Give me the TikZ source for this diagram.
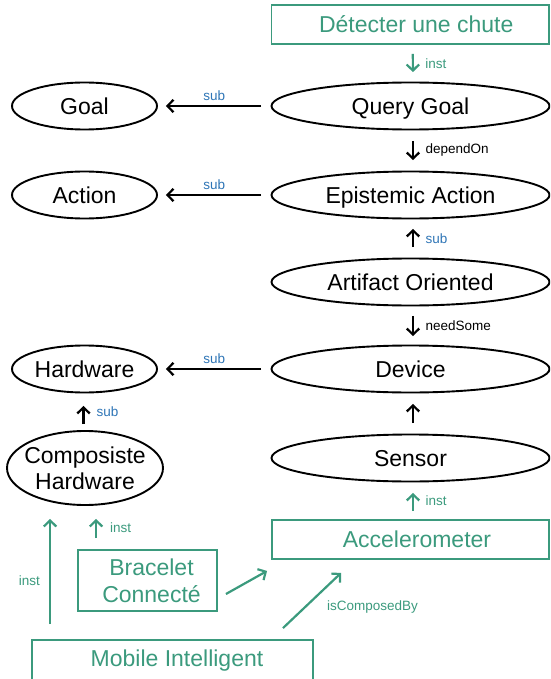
\documentclass[tikz,border=0pt]{standalone}
\usepackage{fontspec}
\setmainfont{Liberation Sans}
\usetikzlibrary{arrows.meta,shapes.geometric}
\definecolor{dgreen}{HTML}{3B9A7D}
\definecolor{dblue}{HTML}{2E75B6}
\begin{document}
\begin{tikzpicture}[x=1pt,y=-1pt,
  big/.style={font=\fontsize{23}{26}\selectfont},
  one/.style={text height=16.5pt, text depth=0pt},
  small/.style={font=\fontsize{13.5}{16}\selectfont, inner sep=0pt},
  ell/.style={draw, ellipse, line width=1.9pt, inner sep=0pt, big},
  rell/.style={ell, one, minimum width=278pt, minimum height=47pt},
  lell/.style={ell, one, minimum width=145pt, minimum height=47pt},
  gbox/.style={draw=dgreen, line width=1.9pt, text=dgreen, inner sep=0pt, big},
  barr/.style={line width=2.2pt, -{Straight Barb[length=6pt,width=12.5pt]}},
  garr/.style={barr, draw=dgreen},
  glab/.style={small, text=dgreen},
  blab/.style={small, text=dblue},
  klab/.style={small, text=black}
]
\useasboundingbox (0,0) rectangle (550,679);
\clip (0,0) rectangle (550,679);

% right column
\node[gbox, one, minimum width=277.5pt, minimum height=39pt] (det) at (410.25,24.5) {\hspace*{12pt}Détecter une chute};
\node[rell] (qg) at (410.5,106) {Query Goal};
\node[rell] (ea) at (410.5,195) {Epistemic Action};
\node[rell] (ao) at (410.5,282) {Artifact Oriented};
\node[rell] (dev) at (410.5,369) {Device};
\node[rell] (sen) at (410.5,458) {Sensor};
\node[gbox, one, minimum width=277pt, minimum height=39pt] (acc) at (410.5,539.5) {\hspace*{13pt}Accelerometer};

% left column
\node[lell] (goal) at (84.5,106) {Goal};
\node[lell] (act) at (84.5,195) {Action};
\node[lell] (hw) at (84.5,369) {Hardware};
\node[ell, inner xsep=-20pt, minimum width=156pt, minimum height=74pt, align=center] (chw) at (85,468) {Composiste\\Hardware};
\node[gbox, align=center, minimum width=139pt, minimum height=61pt, font=\fontsize{23}{27}\selectfont] (brac) at (147.5,580.5) {\hspace*{8pt}Bracelet\\\hspace*{8pt}Connecté};
\node[gbox, minimum width=281pt, minimum height=60pt, text height=10pt, text depth=18pt] (mob) at (172.5,670) {\hspace*{9pt}Mobile Intelligent};

% vertical arrows, right column
\draw[garr, shorten <=9pt, shorten >=9.5pt] ([xshift=2.5pt]det.south) -- ([xshift=2.5pt]qg.north)
  node[glab, midway, right, xshift=11.5pt] {inst};
\draw[barr, shorten <=10.5pt, shorten >=10.5pt] ([xshift=2.5pt]qg.south) -- ([xshift=2.5pt]ea.north)
  node[klab, midway, right, xshift=11.5pt] {dependOn};
\draw[barr, shorten <=10.5pt, shorten >=9.5pt] ([xshift=2.5pt]ao.north) -- ([xshift=2.5pt]ea.south)
  node[blab, midway, right, xshift=11.5pt] {sub};
\draw[barr, shorten <=9.5pt, shorten >=8.5pt] ([xshift=2.5pt]ao.south) -- ([xshift=2.5pt]dev.north)
  node[klab, midway, right, xshift=11.5pt] {needSome};
\draw[barr, shorten <=10.5pt, shorten >=10.5pt] ([xshift=2.5pt]sen.north) -- ([xshift=2.5pt]dev.south);
\draw[garr, shorten <=8pt, shorten >=10.5pt] ([xshift=2.5pt]acc.north) -- ([xshift=2.5pt]sen.south)
  node[glab, midway, right, xshift=11.5pt] {inst};

% horizontal arrows
\draw[barr, shorten <=9.5pt, shorten >=8pt] (qg.west) -- (goal.east)
  node[blab, midway, yshift=10pt] {sub};
\draw[barr, shorten <=9.5pt, shorten >=8pt] (ea.west) -- (act.east)
  node[blab, midway, yshift=10pt] {sub};
\draw[barr, shorten <=9.5pt, shorten >=8pt] (dev.west) -- (hw.east)
  node[blab, midway, yshift=10pt] {sub};

% left column arrows
\draw[barr, shorten <=6pt, shorten >=12.5pt] ([xshift=-1.5pt]chw.north) -- ([xshift=-1pt]hw.south)
  node[blab, midway, right, xshift=12pt] {sub};
\coordinate (m1) at ([xshift=19pt]mob.north west);
\draw[garr, shorten <=15pt, shorten >=13pt] (m1) -- (m1 |- chw.south)
  node[glab, pos=0.44, left, xshift=-9pt] {inst};
\coordinate (b1) at ([xshift=19pt]brac.north west);
\draw[garr, shorten <=11pt, shorten >=13pt] (b1) -- (b1 |- chw.south)
  node[glab, midway, right, xshift=13pt] {inst};

% diagonal arrows
\draw[garr] ([shift={(8,13.5)}]brac.east) -- ([shift={(-4,11)}]acc.south west);
\draw[garr] ([shift={(110.5,-11)}]mob.north) -- ([shift={(70,13)}]acc.south west)
  node[glab, midway, right, xshift=14pt, yshift=-6.5pt] {isComposedBy};
\end{tikzpicture}
\end{document}
